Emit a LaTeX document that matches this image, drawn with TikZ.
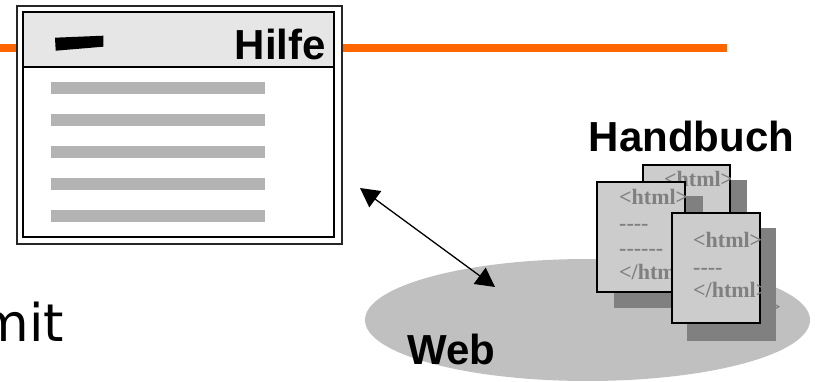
\documentclass[tikz,border=0pt]{standalone}
\usepackage{fontspec}
\setmainfont{Liberation Sans}
\newfontfamily\docfont{Liberation Serif}
\newfontfamily\bodyfont{DejaVu Sans}
\usetikzlibrary{arrows.meta,shapes.geometric}
\definecolor{orangebar}{HTML}{FF6600}
\definecolor{titlegray}{HTML}{E6E6E6}
\definecolor{bargray}{HTML}{B3B3B3}
\definecolor{webgray}{HTML}{C0C0C0}
\definecolor{docgray}{HTML}{CCCCCC}
\definecolor{shadowgray}{HTML}{808080}
\definecolor{doctext}{HTML}{808080}
\begin{document}
\begin{tikzpicture}[x=1pt,y=-1pt,
  biglabel/.style={font=\bfseries\fontsize{42}{48}\selectfont, inner sep=0pt},
  doctxt/.style={font=\docfont\bfseries\fontsize{22}{26}\selectfont, text=doctext, inner sep=0pt, anchor=base west},
  docpage/.style={fill=docgray, draw=black, line width=1.6pt},
  docshadow/.style={fill=shadowgray},
  textbar/.style={fill=bargray},
  winframe/.style={draw=black, line width=1.5pt},
  dblarrow/.style={{Triangle[length=19pt,width=20pt]}-{Triangle[length=19pt,width=20pt]}, line width=1.3pt}]
\useasboundingbox (0,0) rectangle (815,382);
\clip (0,0) rectangle (815,382);

% orange rule
\draw[orangebar, line width=8pt] (0,48) -- (727,48);

% help window
\draw[fill=white, draw=black!85, line width=1.6pt] (17,6) rectangle (342,244);
\draw[winframe, fill=white] (23,12) rectangle (334,237);
\draw[winframe, fill=titlegray] (23,12) rectangle (334,67);
\fill (55,37.7) -- (103.3,35.7) -- (103.3,46.7) -- (55.7,50.7) -- cycle;
\node[biglabel, anchor=base east] (hilfe) at (326,60) {Hilfe};
\foreach \yy in {82,114,146,178,210} \fill[textbar] (51,\yy) rectangle (265,\yy+12);

% partial word at the left edge
\node[font=\bodyfont\fontsize{52}{60}\selectfont, anchor=base west, inner sep=0pt] (mit) at (-21.5,342) {mit};

% web ellipse
\node[ellipse, fill=webgray, minimum width=445pt, minimum height=122pt, inner sep=0pt] (web) at (587.5,320) {};

% double arrow
\coordinate (aend1) at (360,188);
\coordinate (aend2) at (495,287);
\draw[dblarrow] (aend1) -- (aend2);

\node[biglabel, anchor=base west] (weblbl) at (407,365) {Web};
\node[biglabel, anchor=base] (handbuch) at (691.5,152) {Handbuch};

% back document
\fill[docshadow] (660,180) rectangle (747,290);
\draw[docpage] (643,165) rectangle (730,275);
\begin{scope}
  \clip (643,165) rectangle (730,275);
  \node[doctxt] (bt1) at (664,187) {<html>};
\end{scope}

% left document
\fill[docshadow] (614,196) rectangle (703,308);
\draw[docpage] (597,182) rectangle (685,292);
\begin{scope}
  \clip (597,182) rectangle (685,292);
  \node[doctxt] (lt1) at (619,205) {<html>};
  \node[doctxt] (lt2) at (619,231) {----};
  \node[doctxt] (lt3) at (619,256) {------};
  \node[doctxt] (lt4) at (619,280) {</html>};
\end{scope}

% stray character behind the front document
\node[doctxt, anchor=base east] (stray) at (781,315) {>};

% front document
\fill[docshadow] (687,228) rectangle (776,341);
\draw[docpage] (672,213) rectangle (760,323);
\begin{scope}
  \clip (672,213) rectangle (760,323);
  \node[doctxt] (ft1) at (693,248) {<html>};
  \node[doctxt] (ft2) at (693,275) {----};
  \node[doctxt] (ft3) at (693,298) {</html>};
\end{scope}
\end{tikzpicture}
\end{document}
